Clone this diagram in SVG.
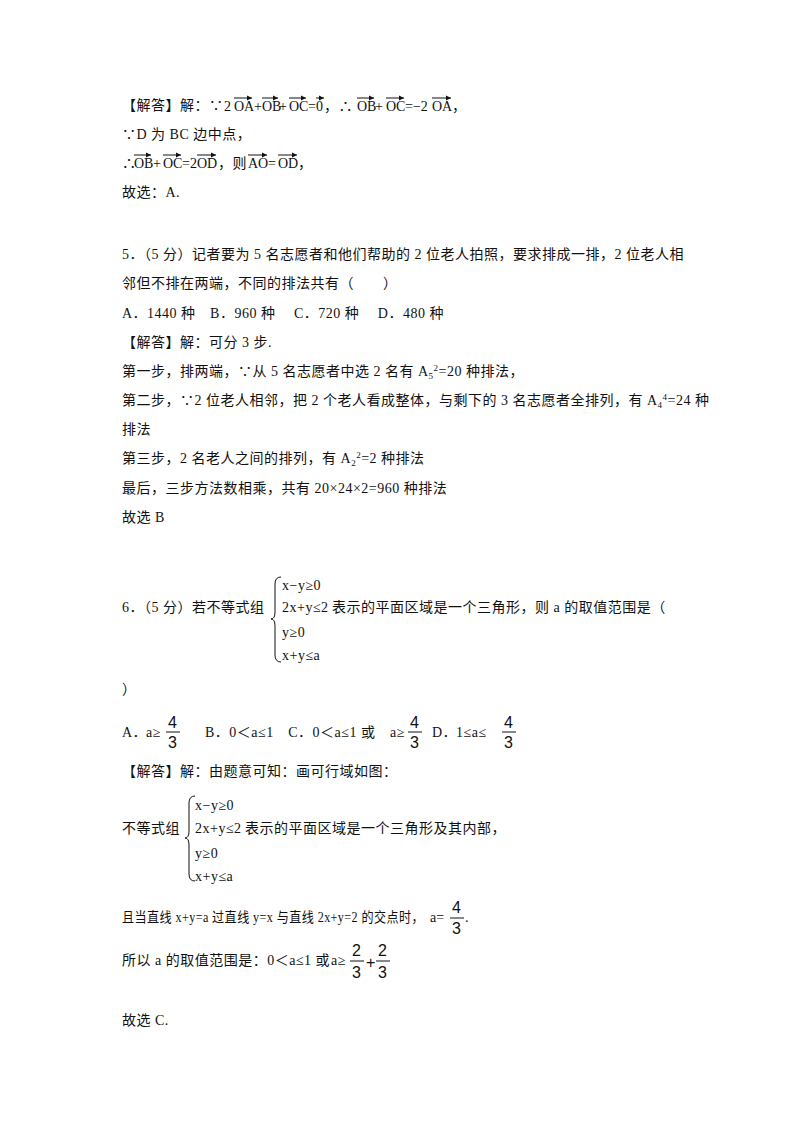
<svg xmlns="http://www.w3.org/2000/svg" width="800" height="1132" viewBox="0 0 800 1132">
<style>
text{font-family:"Liberation Serif","Noto Sans CJK SC",serif;font-size:14px;fill:#111;letter-spacing:0.5px}
.v{stroke:#111;stroke-width:1;fill:none}
.s{font-size:9px}
.f{font-size:16px;font-family:"Liberation Sans",sans-serif;letter-spacing:0}
.m{letter-spacing:0}
</style>
<defs><marker id="ah" markerWidth="6" markerHeight="6" refX="5" refY="3" orient="auto"><path d="M0,0.5L5,3L0,5.5z" fill="#111"/></marker></defs>
<rect width="800" height="1132" fill="#fff"/>
<text x="122" y="110">【解答】解：∵</text>
<g class="m">
<text x="224" y="111" class="m">2</text><text x="234" y="111" class="m">OA</text><text x="254" y="111" class="m">+</text>
<text x="262" y="111" class="m">OB</text><text x="279" y="111" class="m">+</text><text x="289" y="111" class="m">OC</text>
<text x="308" y="111" class="m">=</text><text x="316" y="111" class="m">0</text><text x="324" y="111">，∴</text>
<text x="357" y="111" class="m">OB</text><text x="375" y="111" class="m">+</text><text x="386" y="111" class="m">OC</text>
<text x="405" y="111" class="m">=−2</text><text x="432" y="111" class="m">OA</text><text x="452" y="111">，</text>
</g>
<g class="v" marker-end="url(#ah)">
<path d="M234,98H252"/><path d="M262,98H278"/><path d="M289,98H306"/><path d="M316,98H324"/>
<path d="M357,98H374"/><path d="M386,98H404"/><path d="M432,98H451"/>
</g>
<text x="122" y="139">∵D 为 BC 边中点，</text>
<text x="122" y="168">∴</text><text x="134" y="168" class="m">OB</text><text x="153" y="168" class="m">+</text>
<text x="163" y="168" class="m">OC</text><text x="182" y="168" class="m">=2</text><text x="197" y="168" class="m">OD</text>
<text x="218" y="168">，则</text><text x="248" y="168" class="m">AO</text><text x="268" y="168" class="m">=</text>
<text x="278" y="168" class="m">OD</text><text x="298" y="168">，</text>
<g class="v" marker-end="url(#ah)">
<path d="M134,155H151"/><path d="M163,155H181"/><path d="M197,155H216"/><path d="M248,155H267"/><path d="M278,155H297"/>
</g>
<text x="122" y="197">故选：A.</text>
<text x="122" y="259">5．（5 分）记者要为 5 名志愿者和他们帮助的 2 位老人拍照，要求排成一排，2 位老人相</text>
<text x="122" y="288">邻但不排在两端，不同的排法共有（　　）</text>
<text x="122" y="318">A．1440 种　B．960 种　 C．720 种　 D．480 种</text>
<text x="122" y="347">【解答】解：可分 3 步.</text>
<text x="122" y="376">第一步，排两端，∵从 5 名志愿者中选 2 名有 A<tspan class="s" dy="3">5</tspan><tspan class="s" dy="-8">2</tspan><tspan dy="5">=20 种排法，</tspan></text>
<text x="122" y="405">第二步，∵2 位老人相邻，把 2 个老人看成整体，与剩下的 3 名志愿者全排列，有 A<tspan class="s" dy="3">4</tspan><tspan class="s" dy="-8">4</tspan><tspan dy="5">=24 种</tspan></text>
<text x="122" y="434">排法</text>
<text x="122" y="463">第三步，2 名老人之间的排列，有 A<tspan class="s" dy="3">2</tspan><tspan class="s" dy="-8">2</tspan><tspan dy="5">=2 种排法</tspan></text>
<text x="122" y="493">最后，三步方法数相乘，共有 20×24×2=960 种排法</text>
<text x="122" y="522">故选 B</text>
<text x="122" y="612">6．（5 分）若不等式组</text>
<path class="v" d="M281,577Q275,577 275,584V612Q275,619 271,619Q275,619 275,626V655Q275,662 281,662"/>
<text x="282" y="590">x−y≥0</text>
<text x="282" y="612">2x+y≤2</text>
<text x="282" y="637">y≥0</text>
<text x="282" y="660">x+y≤a</text>
<text x="332" y="612">表示的平面区域是一个三角形，则 a 的取值范围是（</text>
<text x="122" y="694">）</text>
<text x="122" y="737">A．</text><text x="146" y="737">a≥</text>
<text x="168" y="728" class="f">4</text><path class="v" d="M166,732H180"/><text x="168" y="748" class="f">3</text>
<text x="205" y="737">B．0＜a≤1　C．0＜a≤1 或</text>
<text x="390" y="737">a≥</text>
<text x="410" y="728" class="f">4</text><path class="v" d="M408,732H422"/><text x="410" y="748" class="f">3</text>
<text x="432" y="737">D．</text><text x="456" y="737">1≤a≤</text>
<text x="504" y="728" class="f">4</text><path class="v" d="M502,732H516"/><text x="504" y="748" class="f">3</text>
<text x="122" y="776">【解答】解：由题意可知：画可行域如图：</text>
<text x="122" y="833">不等式组</text>
<path class="v" d="M195,796Q189,796 189,803V831Q189,838 185,838Q189,838 189,845V874Q189,881 195,881"/>
<text x="195" y="810">x−y≥0</text>
<text x="195" y="833">2x+y≤2</text>
<text x="195" y="858">y≥0</text>
<text x="195" y="881">x+y≤a</text>
<text x="245" y="833">表示的平面区域是一个三角形及其内部，</text>
<text x="122" y="922" textLength="302" lengthAdjust="spacingAndGlyphs">且当直线 x+y=a 过直线 y=x 与直线 2x+y=2 的交点时，</text>
<text x="430" y="922" class="m">a=</text>
<text x="452" y="913" class="f">4</text><path class="v" d="M450,918H464"/><text x="452" y="934" class="f">3</text><text x="465" y="922">.</text>
<text x="122" y="965">所以 a 的取值范围是：0＜a≤1 或</text>
<text x="331" y="965">a≥</text>
<text x="352" y="956" class="f">2</text><path class="v" d="M350,961H364"/><text x="352" y="978" class="f">3</text>
<text x="366" y="968" class="f">+</text>
<text x="378" y="956" class="f">2</text><path class="v" d="M376,961H390"/><text x="378" y="978" class="f">3</text>
<text x="122" y="1025">故选 C.</text>
</svg>
